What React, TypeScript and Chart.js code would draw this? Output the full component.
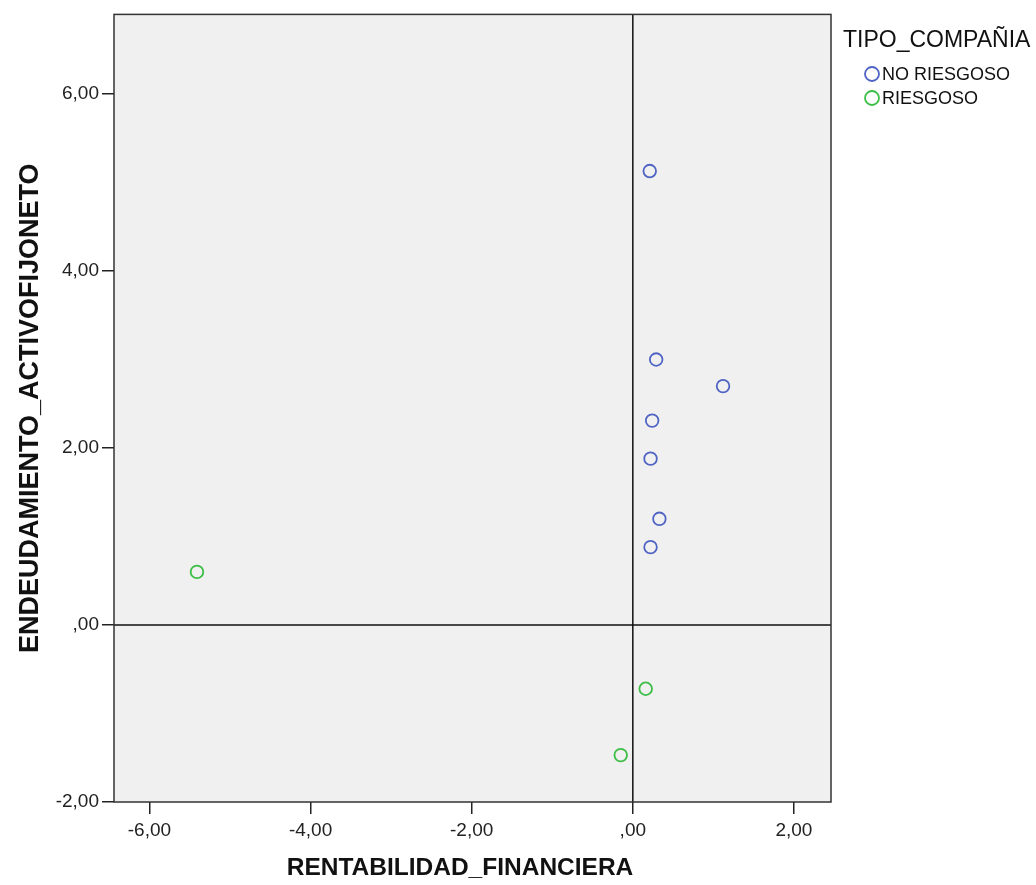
import React, { useEffect, useRef } from "react";
import { Chart, registerables } from "chart.js";

Chart.register(...registerables);

const seriesNames = ["NO RIESGOSO", "RIESGOSO"];
const noRiesgosoX = [0.21, 0.29, 1.12, 0.24, 0.22, 0.33, 0.22];
const noRiesgosoY = [5.13, 3.0, 2.7, 2.31, 1.88, 1.2, 0.88];
const riesgosoX = [-5.41, 0.16, -0.15];
const riesgosoY = [0.6, -0.72, -1.47];
const xTicks = [-6, -4, -2, 0, 2];
const yTicks = [-2, 0, 2, 4, 6];
const legendTitle = "TIPO_COMPAÑIA";
const xTitle = "RENTABILIDAD_FINANCIERA";
const yTitle = "ENDEUDAMIENTO_ACTIVOFIJONETO";

const BLUE = "rgb(80,100,195)";
const GREEN = "rgb(60,190,70)";
const FONT = "'Liberation Sans', Arial, sans-serif";

function fmt(v: number): string {
  const s = Math.abs(v).toFixed(2).replace(".", ",");
  const t = s.startsWith("0") ? s.slice(1) : s;
  return (v < 0 ? "-" : "") + t;
}

export default function App() {
  const ref = useRef<HTMLCanvasElement>(null);
  useEffect(() => {
    document.body.style.margin = "0";
    const canvas = ref.current!;
    const bgPlugin = {
      id: "bgPlugin",
      beforeDatasetsDraw(chart: any) {
        const { ctx, chartArea: a, scales } = chart;
        ctx.save();
        ctx.fillStyle = "#f0f0f0";
        ctx.fillRect(a.left, a.top, a.right - a.left, a.bottom - a.top);
        ctx.strokeStyle = "#111";
        ctx.lineWidth = 1.5;
        const x0 = scales.x.getPixelForValue(0);
        const y0 = scales.y.getPixelForValue(0);
        ctx.beginPath();
        ctx.moveTo(x0, a.top);
        ctx.lineTo(x0, a.bottom);
        ctx.moveTo(a.left, y0);
        ctx.lineTo(a.right, y0);
        ctx.stroke();
        ctx.strokeStyle = "#333";
        ctx.lineWidth = 1.5;
        ctx.strokeRect(a.left, a.top, a.right - a.left, a.bottom - a.top);
        ctx.restore();
      },
      afterDraw(chart: any) {
        const { ctx } = chart;
        ctx.save();
        ctx.fillStyle = "#111";
        ctx.textBaseline = "middle";
        ctx.textAlign = "center";
        ctx.font = `bold 24.5px ${FONT}`;
        ctx.fillText(xTitle, 460, 868);
        ctx.textAlign = "left";
        ctx.font = `23px ${FONT}`;
        ctx.fillText(legendTitle, 843, 41);
        const cols = [BLUE, GREEN];
        const ys = [74, 98];
        seriesNames.forEach((n, i) => {
          ctx.beginPath();
          ctx.strokeStyle = cols[i];
          ctx.lineWidth = 1.8;
          ctx.arc(872, ys[i], 7, 0, Math.PI * 2);
          ctx.stroke();
          ctx.fillStyle = "#111";
          ctx.font = `18px ${FONT}`;
          ctx.fillText(n, 882, ys[i] + 1);
        });
        ctx.restore();
      },
    };
    const chart = new Chart(canvas, {
      type: "scatter",
      data: {
        datasets: [
          {
            label: seriesNames[0],
            data: noRiesgosoX.map((x, i) => ({ x, y: noRiesgosoY[i] })),
            borderColor: BLUE,
            backgroundColor: "rgba(0,0,0,0)",
            pointRadius: 6.3,
            borderWidth: 1.8,
          },
          {
            label: seriesNames[1],
            data: riesgosoX.map((x, i) => ({ x, y: riesgosoY[i] })),
            borderColor: GREEN,
            backgroundColor: "rgba(0,0,0,0)",
            pointRadius: 6.3,
            borderWidth: 1.8,
          },
        ],
      },
      options: {
        animation: false,
        responsive: false,
        layout: { padding: { left: 0, right: 205, top: 14, bottom: 0 } },
        plugins: { legend: { display: false }, tooltip: { enabled: false } },
        scales: {
          x: {
            type: "linear",
            min: -6.44,
            max: 2.46,
            afterBuildTicks: (s: any) => {
              s.ticks = xTicks.map((v) => ({ value: v }));
            },
            afterFit: (s: any) => {
              s.height = 83;
            },
            grid: { drawOnChartArea: false, drawTicks: true, tickLength: 12, color: "#222", lineWidth: 1.5 },
            border: { display: false },
            ticks: {
              color: "#222",
              font: { family: FONT, size: 19 },
              padding: 5,
              maxRotation: 0,
              callback: (v: any) => fmt(Number(v)),
            },
            title: { display: false },
          },
          y: {
            type: "linear",
            min: -2,
            max: 6.9,
            afterBuildTicks: (s: any) => {
              s.ticks = yTicks.map((v) => ({ value: v }));
            },
            afterFit: (s: any) => {
              s.width = 114;
            },
            grid: { drawOnChartArea: false, drawTicks: true, tickLength: 12, color: "#222", lineWidth: 1.5 },
            border: { display: false },
            ticks: {
              color: "#222",
              font: { family: FONT, size: 19 },
              padding: 3,
              callback: (v: any) => fmt(Number(v)),
            },
            title: {
              display: true,
              text: yTitle,
              color: "#111",
              font: { family: FONT, size: 27, weight: "bold" },
              padding: { top: 14, bottom: 0 },
            },
          },
        },
      },
      plugins: [bgPlugin],
    } as any);
    return () => chart.destroy();
  }, []);
  return (
    <div style={{ width: 1036, height: 885, position: "relative" }}>
      <canvas ref={ref} width={1036} height={885} style={{ width: 1036, height: 885, display: "block" }} />
    </div>
  );
}
